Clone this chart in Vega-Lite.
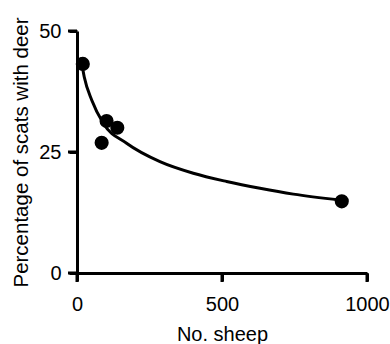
{
  "$schema": "https://vega.github.io/schema/vega-lite/v6.json",
  "width": 290,
  "height": 242,
  "autosize": "none",
  "padding": {"left": 77, "top": 31, "right": 23, "bottom": 71},
  "background": "white",
  "config": {
    "view": {"stroke": null},
    "font": "Liberation Sans"
  },
  "datasets": {
    "points": [
      {"sheep": 20, "pct": 43.2},
      {"sheep": 85, "pct": 26.9},
      {"sheep": 102, "pct": 31.4},
      {"sheep": 139, "pct": 30.0},
      {"sheep": 913, "pct": 14.8}
    ],
    "curve": [
      {"sheep": 13, "pct": 44.5},
      {"sheep": 25, "pct": 40.5},
      {"sheep": 51, "pct": 35.7},
      {"sheep": 91, "pct": 30.9},
      {"sheep": 171, "pct": 26.8},
      {"sheep": 286, "pct": 23.0},
      {"sheep": 401, "pct": 20.6},
      {"sheep": 516, "pct": 18.9},
      {"sheep": 631, "pct": 17.5},
      {"sheep": 746, "pct": 16.3},
      {"sheep": 907, "pct": 15.1}
    ],
    "xticks": [{"v": 0}, {"v": 500}, {"v": 1000}],
    "yticks": [{"v": 0}, {"v": 25}, {"v": 50}]
  },
  "layer": [
    {
      "data": {"name": "curve"},
      "mark": {"type": "line", "color": "black", "strokeWidth": 3, "interpolate": "monotone"},
      "encoding": {
        "x": {"field": "sheep", "type": "quantitative", "scale": {"domain": [0, 1000]},
          "axis": {"values": [0, 500, 1000], "format": "d", "title": "No. sheep", "labelFlush": false,
            "grid": false, "domain": true, "ticks": true, "domainColor": "black", "domainWidth": 3,
            "tickColor": "black", "tickWidth": 3, "tickSize": 8,
            "labelColor": "black", "labelFont": "Liberation Sans", "labelFontSize": 20,
            "titleColor": "black", "titleFont": "Liberation Sans", "titleFontWeight": "normal",
            "titleFontSize": 20, "labelPadding": 13, "titlePadding": 10}},
        "y": {"field": "pct", "type": "quantitative", "scale": {"domain": [0, 50]},
          "axis": {"values": [0, 25, 50], "format": "d", "title": "Percentage of scats with deer", "labelFlush": false,
            "grid": false, "domain": true, "ticks": true, "domainColor": "black", "domainWidth": 3,
            "tickColor": "black", "tickWidth": 3, "tickSize": 8,
            "labelColor": "black", "labelFont": "Liberation Sans", "labelFontSize": 20,
            "titleColor": "black", "titleFont": "Liberation Sans", "titleFontWeight": "normal",
            "titleFontSize": 20.5, "labelPadding": 8, "titlePadding": 7}}
      }
    },
    {
      "mark": {"type": "rule", "color": "black", "strokeWidth": 3.5},
      "encoding": {
        "x": {"datum": 0, "type": "quantitative"},
        "x2": {"datum": 1000},
        "y": {"datum": 0, "type": "quantitative"}
      }
    },
    {
      "mark": {"type": "rule", "color": "black", "strokeWidth": 3.5},
      "encoding": {
        "x": {"datum": 0, "type": "quantitative"},
        "y": {"datum": 0, "type": "quantitative"},
        "y2": {"datum": 50}
      }
    },
    {
      "data": {"name": "xticks"},
      "mark": {"type": "tick", "color": "black", "orient": "vertical", "size": 9, "thickness": 3, "yOffset": 4.5, "opacity": 1},
      "encoding": {
        "x": {"field": "v", "type": "quantitative"},
        "y": {"datum": 0, "type": "quantitative"}
      }
    },
    {
      "data": {"name": "yticks"},
      "mark": {"type": "tick", "color": "black", "orient": "horizontal", "size": 9, "thickness": 3, "xOffset": -4.5, "opacity": 1},
      "encoding": {
        "x": {"datum": 0, "type": "quantitative"},
        "y": {"field": "v", "type": "quantitative"}
      }
    },
    {
      "data": {"name": "points"},
      "mark": {"type": "circle", "color": "black", "opacity": 1, "size": 200},
      "encoding": {
        "x": {"field": "sheep", "type": "quantitative"},
        "y": {"field": "pct", "type": "quantitative"}
      }
    }
  ]
}
